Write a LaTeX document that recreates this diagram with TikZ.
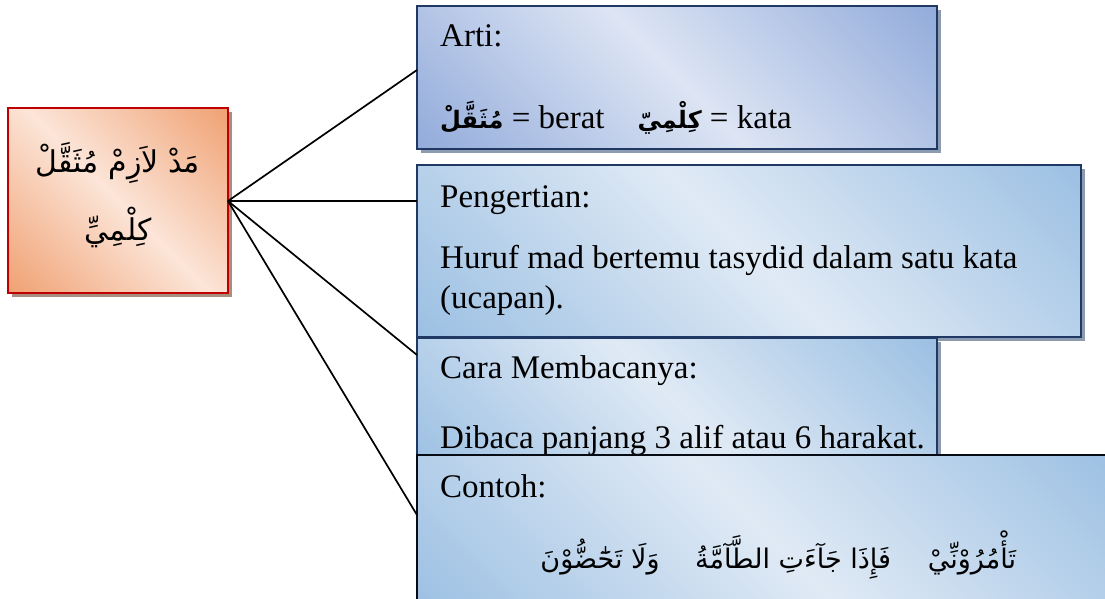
\documentclass[tikz,border=0pt]{standalone}
\usepackage{fontspec}
\setmainfont{Liberation Serif}
\newfontfamily\arabicfont[Script=Arabic]{DejaVu Sans}
\TeXXeTstate=1
\definecolor{bdarkA}{HTML}{93ACDB}
\definecolor{blightA}{HTML}{DDE5F4}
\definecolor{bdarkB}{HTML}{9CC0E3}
\definecolor{blightB}{HTML}{E0EAF5}
\definecolor{odark}{HTML}{F0A274}
\definecolor{olight}{HTML}{FCE5D8}
\definecolor{navy}{HTML}{1F3864}
\definecolor{redb}{HTML}{C00000}
\definecolor{shadowblue}{HTML}{8C9BB0}
\definecolor{shadowred}{HTML}{A88E80}
\pgfdeclarehorizontalshading{gradA}{100bp}{color(0bp)=(bdarkA); color(15bp)=(bdarkA); color(50bp)=(blightA); color(85bp)=(bdarkA); color(100bp)=(bdarkA)}
\pgfdeclarehorizontalshading{gradB}{100bp}{color(0bp)=(bdarkB); color(15bp)=(bdarkB); color(50bp)=(blightB); color(85bp)=(bdarkB); color(100bp)=(bdarkB)}
\pgfdeclarehorizontalshading{gradO}{100bp}{color(0bp)=(odark); color(15bp)=(odark); color(50bp)=(olight); color(85bp)=(odark); color(100bp)=(odark)}
\tikzset{
  bluebox/.style={draw=navy, line width=2.8pt, shading=gradB, shading angle=45},
  blueboxA/.style={draw=navy, line width=2.8pt, shading=gradA, shading angle=45},
  txt/.style={anchor=base west, inner sep=0pt, font=\fontsize{33}{38}\selectfont},
  arab/.style={anchor=base, inner sep=0pt, font=\arabicfont\fontsize{30}{34}\selectfont},
  arabex/.style={anchor=base, inner sep=0pt, font=\arabicfont\fontsize{27}{31}\selectfont},
  link/.style={draw=black, line width=1.7pt}
}
\begin{document}
\begin{tikzpicture}[x=1pt,y=-1pt]
\useasboundingbox (0,0) rectangle (1105,598);
% left box
\fill[shadowred] (12,112) rectangle (232,297);
\path[draw=redb, line width=2.4pt, shading=gradO, shading angle=45] (8,108) rectangle (228,293);
\node[arab] (t1) at (118,172) {\beginR مَدْ لاَزِمْ مُثَقَّلْ\endR};
\node[arab] (t2) at (118,240) {\beginR كِلْمِيِّ\endR};
\coordinate (hub) at (228,201);
% box 1
\fill[shadowblue] (421,10) rectangle (941,153);
\path[blueboxA] (417,6) rectangle (937,149);
\coordinate (b1) at (417,70);
\node[txt] (arti) at (440,46) {Arti:};
\node[txt] (artiline) at (440,128) {{\arabicfont\bfseries\fontsize{24}{28}\selectfont\beginR مُثَقَّلْ\endR} = berat\quad {\arabicfont\bfseries\fontsize{24}{28}\selectfont\beginR كِلْمِيّ\endR} = kata};
% box 2
\fill[shadowblue] (421,169) rectangle (1085,341);
\path[bluebox] (417,165) rectangle (1081,337);
\coordinate (b2) at (417,201);
\node[txt] (peng) at (440,207) {Pengertian:};
\node[txt] (huruf) at (440,268) {Huruf mad bertemu tasydid dalam satu kata};
\node[txt] (ucap) at (440,308) {(ucapan).};
% box 3
\fill[shadowblue] (421,342) rectangle (941,474);
\path[bluebox] (417,338) rectangle (937,470);
\coordinate (b3) at (417,355);
\node[txt] (cara) at (440,378) {Cara Membacanya:};
\node[txt] (diba) at (440,448) {Dibaca panjang 3 alif atau 6 harakat.};
% box 4
\path[draw=black!80!navy, line width=2.8pt, shading=gradB, shading angle=45] (417,455) rectangle (1120,615);
\coordinate (b4) at (417,515);
\node[txt] (contoh) at (440,497) {Contoh:};
\node[arabex] (ex1) at (600,568) {\beginR وَلَا تَحَٰٓضُّوْنَ\endR};
\node[arabex] (ex2) at (793,568) {\beginR فَإِذَا جَآءَتِ الطَّآمَّةُ\endR};
\node[arabex] (ex3) at (972,568) {\beginR تَأْمُرُوْنِّيْ\endR};
% connectors
\draw[link] (hub) -- (b1);
\draw[link] (hub) -- (b2);
\draw[link] (hub) -- (b3);
\draw[link] (hub) -- (b4);
\end{tikzpicture}
\end{document}
